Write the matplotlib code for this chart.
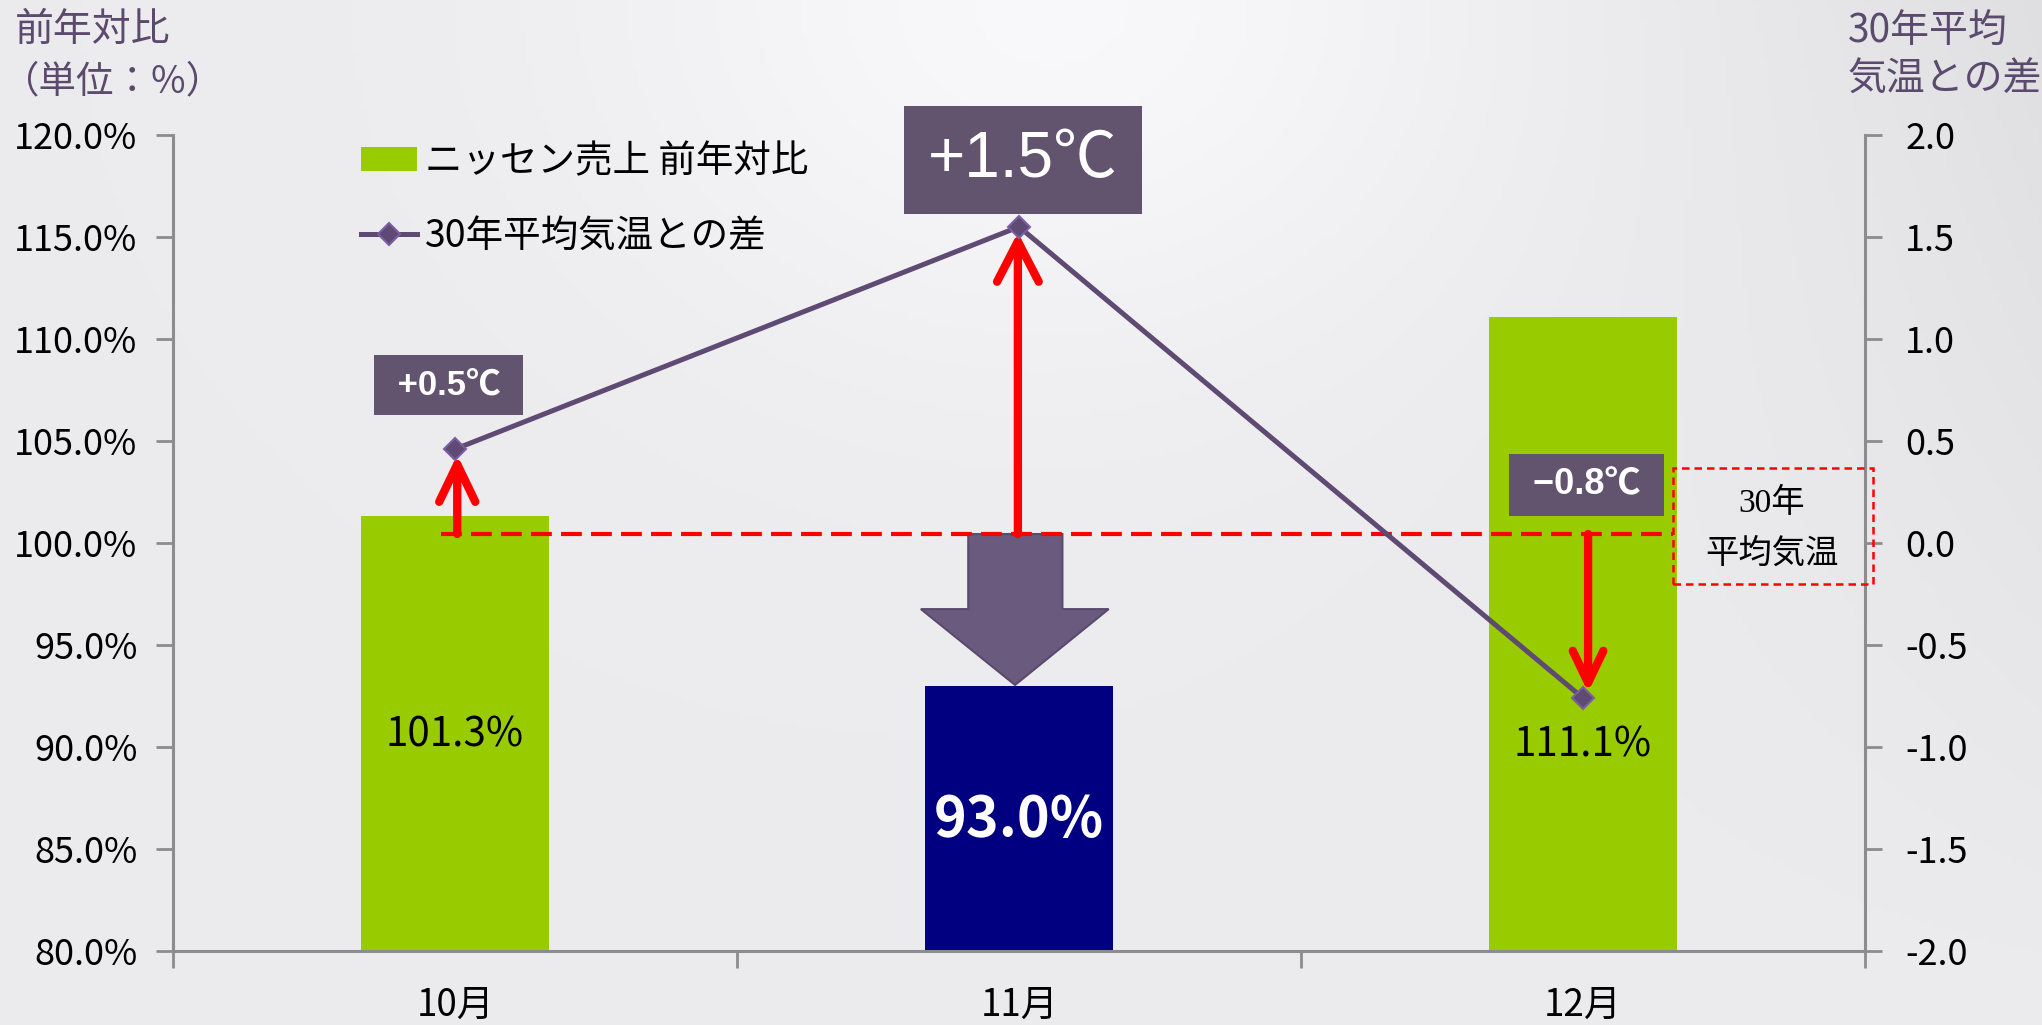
import numpy as np
import matplotlib
matplotlib.use("Agg")
import matplotlib.pyplot as plt
from matplotlib.patches import Polygon, Rectangle, Patch
from matplotlib.lines import Line2D
from matplotlib.ticker import FuncFormatter

plt.rcParams['font.family'] = ['Noto Sans CJK JP', 'DejaVu Sans']

# data
months = ['10月', '11月', '12月']
sales_yoy = [101.3, 93.0, 111.1]          # 前年対比 (%)
temp_diff = [0.46, 1.55, -0.76]            # 30年平均気温との差 (℃)
temp_labels = ['+0.5℃', '+1.5℃', '−0.8℃']
bar_colors = ['#99cc00', '#000080', '#99cc00']
baseline = 0.044                           # 30年平均気温 line (right axis)

purple = '#5e4a73'
grey = '#8c8c8c'

fig = plt.figure(figsize=(20.42, 10.25), dpi=100)

# soft grey background
bg = fig.add_axes([0, 0, 1, 1], zorder=-10)
xx, yy = np.meshgrid(np.linspace(0, 1, 400), np.linspace(0, 1, 200))
v = 0.925 + 0.05 * np.exp(-((xx - 0.52) ** 2 / 0.05 + yy ** 2 / 0.12)) - 0.05 * xx ** 6 * (1 - yy)
bg.imshow(np.dstack([v, v, v + 0.008]).clip(0, 1), aspect='auto', extent=[0, 1, 1, 0])
bg.axis('off')

ax = fig.add_axes([173 / 2042, 1 - 951 / 1025, (1865 - 173) / 2042, (951 - 135) / 1025])
ax.set_facecolor('none')
x = np.arange(len(months))
bars = ax.bar(x, [s - 80 for s in sales_yoy], bottom=80, width=0.333, color=bar_colors, zorder=2)
ax.set_xlim(-0.5, 2.5)
ax.set_ylim(80, 120)
ax.set_yticks(np.arange(80, 120.1, 5))
ax.yaxis.set_major_formatter(FuncFormatter(lambda v, p: f'{v:.1f}%'))
ax.set_xticks([-0.5, 0.5, 1.5, 2.5])
ax.set_xticklabels([])
ax.set_xticks(x, minor=True)
ax.set_xticklabels(months, minor=True)
ax.tick_params(axis='x', which='minor', length=0, pad=25, labelsize=26.5)
ax.tick_params(axis='x', which='major', length=12, width=2, color=grey, direction='out')
ax.tick_params(axis='y', length=12, width=2, color=grey, labelsize=26, pad=13.5)
for s in ['top', 'right']:
    ax.spines[s].set_visible(False)
for s in ['left', 'bottom']:
    ax.spines[s].set_color(grey)
    ax.spines[s].set_linewidth(2.2)

# bar value labels
ax.text(x[0], 90.6, f'{sales_yoy[0]:.1f}%', ha='center', va='center', fontsize=29, zorder=5)
ax.text(x[1], 86.4, f'{sales_yoy[1]:.1f}%', ha='center', va='center', fontsize=40,
        fontweight='bold', color='white', zorder=5)
ax.text(x[2], 90.1, f'{sales_yoy[2]:.1f}%', ha='center', va='center', fontsize=29, zorder=5)

ax2 = ax.twinx()
ax2.set_ylim(-2, 2)
ax2.set_yticks(np.arange(-2, 2.01, 0.5))
ax2.yaxis.set_major_formatter(FuncFormatter(lambda v, p: f'{v:.1f}'))
ax2.tick_params(axis='y', length=12, width=2, color=grey, labelsize=26, pad=17)
for s in ['top', 'left', 'bottom']:
    ax2.spines[s].set_visible(False)
ax2.spines['right'].set_color(grey)
ax2.spines['right'].set_linewidth(2.2)

# big grey down arrow under +1.5
ax2.add_patch(Polygon([(0.910, baseline), (1.077, baseline), (1.077, -0.324), (1.159, -0.324),
                       (0.993, -0.696), (0.826, -0.324), (0.910, -0.324)],
                      closed=True, facecolor='#6a5b7e', edgecolor='#5a4a6e', lw=1.5, zorder=2))

# baseline dashed red line
ax2.plot([-0.025, 2.16], [baseline, baseline], color='red', lw=3, ls=(0, (5, 2.2)), zorder=3)

# red arrows from baseline to temperature
heads = [(2.7, 1.3), (2.9, 1.5), (2.3, 1.1)]
for xi, ti, (hl, hw), xo in zip(x, temp_diff, heads, [0.004, -0.002, 0.009]):
    ax2.annotate('', xy=(xi + xo, ti), xytext=(xi + xo, baseline),
                 arrowprops=dict(arrowstyle=f'->,head_length={hl},head_width={hw}', lw=6,
                                 color='red', shrinkA=0, shrinkB=4, mutation_scale=10,
                                 capstyle='round', joinstyle='round'), zorder=4)

# temperature line
line, = ax2.plot(x, temp_diff, color=purple, lw=3.6, marker='D', markersize=11,
                 markerfacecolor=purple, markeredgecolor='#7a5ea6', markeredgewidth=1.5, zorder=5)

# temperature label boxes
box = dict(boxstyle='square,pad=0.38', facecolor='#62536f', edgecolor='none')
ax2.text(-0.011, 0.775, ' ' + temp_labels[0] + ' ', ha='center', va='center', fontsize=25,
         fontweight='bold', color='white', family=['Liberation Sans', 'Noto Sans CJK JP'],
         bbox=box, zorder=6)
ax2.text(1.007, 1.877, temp_labels[1], ha='center', va='center', fontsize=46,
         color='white', family=['Liberation Sans', 'Noto Sans CJK JP'],
         bbox=dict(boxstyle='square,pad=0.37', facecolor='#62536f', edgecolor='none'), zorder=6)
ax2.text(2.007, 0.284, ' ' + temp_labels[2] + ' ', ha='center', va='center', fontsize=26,
         fontweight='bold', color='white', family=['Liberation Sans', 'Noto Sans CJK JP'],
         bbox=box, zorder=6)

# 30年平均気温 dashed box
ax2.add_patch(Rectangle((2.16, -0.201), 0.355, 0.569, fill=False, edgecolor='red', lw=1.8,
                        ls=(0, (3, 2)), clip_on=False, zorder=6))
ax2.text(2.335, 0.196, '30年', ha='center', va='center', fontsize=24,
         family=['Liberation Serif', 'Noto Sans CJK JP'], zorder=6)
ax2.text(2.335, -0.049, '平均気温', ha='center', va='center', fontsize=24, zorder=6)

# legend
handles = [Patch(facecolor='#99cc00', edgecolor='none'),
           Line2D([0], [0], color=purple, lw=3.6, marker='D', markersize=11,
                  markerfacecolor=purple, markeredgecolor='#7a5ea6', markeredgewidth=1.5)]
ax2.legend(handles, ['ニッセン売上 前年対比', '30年平均気温との差'], loc='upper left',
           bbox_to_anchor=(361 / 2042, 1 - 142 / 1025), bbox_transform=fig.transFigure,
           frameon=False, fontsize=27, handlelength=1.5, handleheight=0.6,
           handletextpad=0.2, labelspacing=0.96, borderpad=0, borderaxespad=0)

# axis titles
fig.text(15 / 2042, 1 - 30 / 1025, '前年対比', fontsize=28, color='#5b4a6e', va='center', ha='left')
fig.text(2 / 2042, 1 - 82 / 1025, '（単位：%）', fontsize=27, color='#5b4a6e', va='center', ha='left')
fig.text(1848 / 2042, 1 - 32 / 1025, '30年平均', fontsize=28, color='#5b4a6e', va='center', ha='left')
fig.text(1848 / 2042, 1 - 80 / 1025, '気温との差', fontsize=28, color='#5b4a6e', va='center', ha='left')

fig.savefig('out.png', dpi=100)
